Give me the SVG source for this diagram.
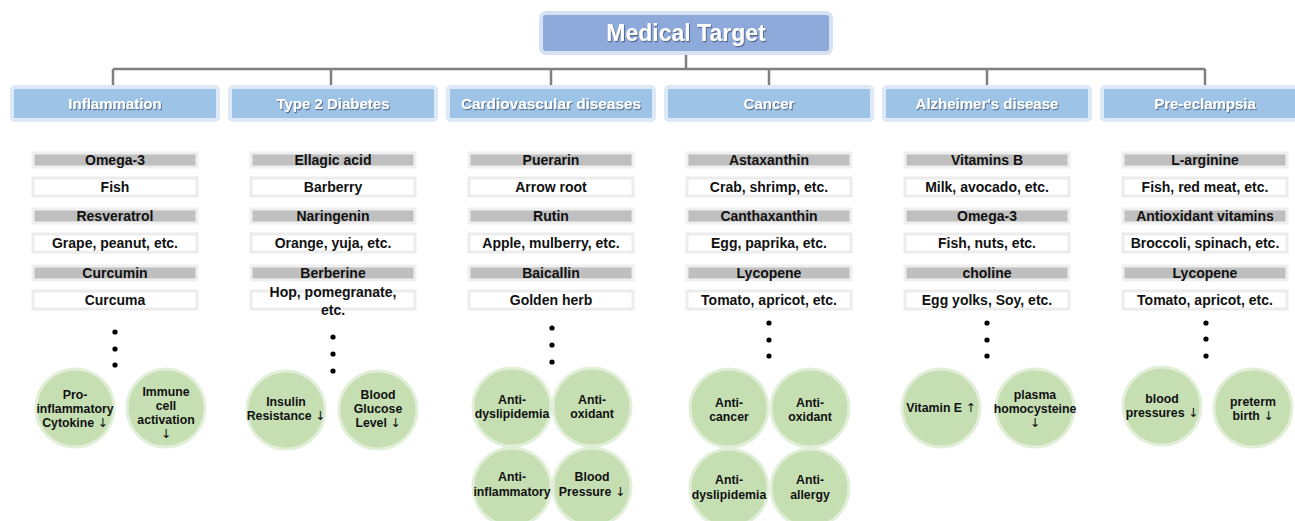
<svg xmlns="http://www.w3.org/2000/svg" width="1295" height="521" viewBox="0 0 1295 521">
<defs>
<filter id="ts" x="-10%" y="-30%" width="120%" height="160%"><feDropShadow dx="1" dy="1.2" stdDeviation="0.6" flood-color="#3a4a66" flood-opacity="0.7"/></filter>
</defs>
<style>
text{font-family:"Liberation Sans",Arial,sans-serif;font-weight:bold;text-anchor:middle;fill:#111}
.ar{font-family:"DejaVu Sans",sans-serif;font-weight:normal}
.title{fill:#8eaadb;stroke:#d6e1f3;stroke-width:4}
.tt{font-size:23px;fill:#fff}
.cat{fill:#9dc3e6;stroke:#dde9f6;stroke-width:4}
.ct{font-size:15px;fill:#fff}
.g{fill:#bfbfbf;stroke:#efefef;stroke-width:3}
.w{fill:#fff;stroke:#ececec;stroke-width:3}
.it{font-size:14px}
.c{fill:#c5dfb3;stroke:#e1eed8;stroke-width:3}
.cx{font-size:12.3px}
.conn{stroke:#7f7f7f;stroke-width:2.5;fill:none}
.dot{fill:#000}
</style>
<g id="connectors">
<path class="conn" d="M686 52V69M113 69H1205M113 69V86M331 69V86M551 69V86M769 69V86M987 69V86M1205 69V86"/>
</g>
<g id="title">
<rect class="title" x="541" y="13" width="290" height="40" rx="5"/>
<text class="tt" x="686" y="41" filter="url(#ts)">Medical Target</text>
</g>
<g id="cat-inflammation"><rect class="cat" x="12" y="87" width="206" height="33" rx="3"/><text class="ct" x="115" y="109" filter="url(#ts)">Inflammation</text></g>
<g id="cat-diabetes"><rect class="cat" x="230" y="87" width="206" height="33" rx="3"/><text class="ct" x="333" y="109" filter="url(#ts)">Type 2 Diabetes</text></g>
<g id="cat-cardio"><rect class="cat" x="448" y="87" width="206" height="33" rx="3"/><text class="ct" x="551" y="109" filter="url(#ts)" textLength="180" lengthAdjust="spacingAndGlyphs">Cardiovascular diseases</text></g>
<g id="cat-cancer"><rect class="cat" x="666" y="87" width="206" height="33" rx="3"/><text class="ct" x="769" y="109" filter="url(#ts)">Cancer</text></g>
<g id="cat-alzheimer"><rect class="cat" x="884" y="87" width="206" height="33" rx="3"/><text class="ct" x="987" y="109" filter="url(#ts)">Alzheimer's disease</text></g>
<g id="cat-preeclampsia"><rect class="cat" x="1102" y="87" width="206" height="33" rx="3"/><text class="ct" x="1205" y="109" filter="url(#ts)">Pre-eclampsia</text></g>

<g id="items-inflammation">
<rect class="g" x="33" y="153" width="164" height="14"/><text class="it" x="115" y="165">Omega-3</text>
<rect class="w" x="33" y="178" width="164" height="18"/><text class="it" x="115" y="192">Fish</text>
<rect class="g" x="33" y="209" width="164" height="14"/><text class="it" x="115" y="221">Resveratrol</text>
<rect class="w" x="33" y="234" width="164" height="18"/><text class="it" x="115" y="248">Grape, peanut, etc.</text>
<rect class="g" x="33" y="266" width="164" height="14"/><text class="it" x="115" y="278">Curcumin</text>
<rect class="w" x="33" y="291" width="164" height="18"/><text class="it" x="115" y="305">Curcuma</text>
<circle class="dot" cx="115" cy="332" r="2.6"/><circle class="dot" cx="115" cy="349" r="2.6"/><circle class="dot" cx="115" cy="365" r="2.6"/>
</g>
<g id="items-diabetes">
<rect class="g" x="251" y="153" width="164" height="14"/><text class="it" x="333" y="165">Ellagic acid</text>
<rect class="w" x="251" y="178" width="164" height="18"/><text class="it" x="333" y="192">Barberry</text>
<rect class="g" x="251" y="209" width="164" height="14"/><text class="it" x="333" y="221">Naringenin</text>
<rect class="w" x="251" y="234" width="164" height="18"/><text class="it" x="333" y="248">Orange, yuja, etc.</text>
<rect class="g" x="251" y="266" width="164" height="14"/><text class="it" x="333" y="278">Berberine</text>
<rect class="w" x="251" y="291" width="164" height="18"/><text class="it" x="333" y="297">Hop, pomegranate,</text><text class="it" x="333" y="315">etc.</text>
<circle class="dot" cx="333" cy="337" r="2.6"/><circle class="dot" cx="333" cy="354" r="2.6"/><circle class="dot" cx="333" cy="371" r="2.6"/>
</g>
<g id="items-cardio">
<rect class="g" x="469" y="153" width="164" height="14"/><text class="it" x="551" y="165">Puerarin</text>
<rect class="w" x="469" y="178" width="164" height="18"/><text class="it" x="551" y="192">Arrow root</text>
<rect class="g" x="469" y="209" width="164" height="14"/><text class="it" x="551" y="221">Rutin</text>
<rect class="w" x="469" y="234" width="164" height="18"/><text class="it" x="551" y="248">Apple, mulberry, etc.</text>
<rect class="g" x="469" y="266" width="164" height="14"/><text class="it" x="551" y="278">Baicallin</text>
<rect class="w" x="469" y="291" width="164" height="18"/><text class="it" x="551" y="305">Golden herb</text>
<circle class="dot" cx="552" cy="328" r="2.6"/><circle class="dot" cx="552" cy="345" r="2.6"/><circle class="dot" cx="552" cy="362" r="2.6"/>
</g>
<g id="items-cancer">
<rect class="g" x="687" y="153" width="164" height="14"/><text class="it" x="769" y="165">Astaxanthin</text>
<rect class="w" x="687" y="178" width="164" height="18"/><text class="it" x="769" y="192">Crab, shrimp, etc.</text>
<rect class="g" x="687" y="209" width="164" height="14"/><text class="it" x="769" y="221">Canthaxanthin</text>
<rect class="w" x="687" y="234" width="164" height="18"/><text class="it" x="769" y="248">Egg, paprika, etc.</text>
<rect class="g" x="687" y="266" width="164" height="14"/><text class="it" x="769" y="278">Lycopene</text>
<rect class="w" x="687" y="291" width="164" height="18"/><text class="it" x="769" y="305">Tomato, apricot, etc.</text>
<circle class="dot" cx="769" cy="323" r="2.6"/><circle class="dot" cx="769" cy="340" r="2.6"/><circle class="dot" cx="769" cy="356" r="2.6"/>
</g>
<g id="items-alzheimer">
<rect class="g" x="905" y="153" width="164" height="14"/><text class="it" x="987" y="165">Vitamins B</text>
<rect class="w" x="905" y="178" width="164" height="18"/><text class="it" x="987" y="192">Milk, avocado, etc.</text>
<rect class="g" x="905" y="209" width="164" height="14"/><text class="it" x="987" y="221">Omega-3</text>
<rect class="w" x="905" y="234" width="164" height="18"/><text class="it" x="987" y="248">Fish, nuts, etc.</text>
<rect class="g" x="905" y="266" width="164" height="14"/><text class="it" x="987" y="278">choline</text>
<rect class="w" x="905" y="291" width="164" height="18"/><text class="it" x="987" y="305">Egg yolks, Soy, etc.</text>
<circle class="dot" cx="987" cy="323" r="2.6"/><circle class="dot" cx="987" cy="340" r="2.6"/><circle class="dot" cx="987" cy="356" r="2.6"/>
</g>
<g id="items-preeclampsia">
<rect class="g" x="1123" y="153" width="164" height="14"/><text class="it" x="1205" y="165">L-arginine</text>
<rect class="w" x="1123" y="178" width="164" height="18"/><text class="it" x="1205" y="192">Fish, red meat, etc.</text>
<rect class="g" x="1123" y="209" width="164" height="14"/><text class="it" x="1205" y="221">Antioxidant vitamins</text>
<rect class="w" x="1123" y="234" width="164" height="18"/><text class="it" x="1205" y="248">Broccoli, spinach, etc.</text>
<rect class="g" x="1123" y="266" width="164" height="14"/><text class="it" x="1205" y="278">Lycopene</text>
<rect class="w" x="1123" y="291" width="164" height="18"/><text class="it" x="1205" y="305">Tomato, apricot, etc.</text>
<circle class="dot" cx="1206" cy="323" r="2.6"/><circle class="dot" cx="1206" cy="339" r="2.6"/><circle class="dot" cx="1206" cy="356" r="2.6"/>
</g>

<g id="effect-cytokine"><circle class="c" cx="75" cy="408" r="39"/><text class="cx" x="75" y="399">Pro-</text><text class="cx" x="75" y="413">inflammatory</text><text class="cx" x="75" y="427">Cytokine <tspan class="ar">↓</tspan></text></g>
<g id="effect-immune"><circle class="c" cx="166" cy="408" r="39"/><text class="cx" x="166" y="396">Immune</text><text class="cx" x="166" y="410">cell</text><text class="cx" x="166" y="424">activation</text><text class="cx ar" x="166" y="438">↓</text></g>
<g id="effect-insulin"><circle class="c" cx="286" cy="410" r="39"/><text class="cx" x="286" y="406">Insulin</text><text class="cx" x="286" y="420">Resistance <tspan class="ar">↓</tspan></text></g>
<g id="effect-glucose"><circle class="c" cx="378" cy="410" r="39"/><text class="cx" x="378" y="399">Blood</text><text class="cx" x="378" y="413">Glucose</text><text class="cx" x="378" y="427">Level <tspan class="ar">↓</tspan></text></g>
<g id="effect-cv-dyslipidemia"><circle class="c" cx="512" cy="407" r="39"/><text class="cx" x="512" y="404">Anti-</text><text class="cx" x="512" y="418">dyslipidemia</text></g>
<g id="effect-cv-oxidant"><circle class="c" cx="592" cy="407" r="39"/><text class="cx" x="592" y="404">Anti-</text><text class="cx" x="592" y="418">oxidant</text></g>
<g id="effect-cv-inflammatory"><circle class="c" cx="512" cy="487" r="39"/><text class="cx" x="512" y="481">Anti-</text><text class="cx" x="512" y="496">inflammatory</text></g>
<g id="effect-cv-bp"><circle class="c" cx="592" cy="487" r="39"/><text class="cx" x="592" y="481">Blood</text><text class="cx" x="592" y="496">Pressure <tspan class="ar">↓</tspan></text></g>
<g id="effect-ca-cancer"><circle class="c" cx="729" cy="408" r="39"/><text class="cx" x="729" y="407">Anti-</text><text class="cx" x="729" y="421">cancer</text></g>
<g id="effect-ca-oxidant"><circle class="c" cx="810" cy="408" r="39"/><text class="cx" x="810" y="407">Anti-</text><text class="cx" x="810" y="421">oxidant</text></g>
<g id="effect-ca-dyslipidemia"><circle class="c" cx="729" cy="488" r="39"/><text class="cx" x="729" y="484">Anti-</text><text class="cx" x="729" y="499">dyslipidemia</text></g>
<g id="effect-ca-allergy"><circle class="c" cx="810" cy="488" r="39"/><text class="cx" x="810" y="484">Anti-</text><text class="cx" x="810" y="499">allergy</text></g>
<g id="effect-vitamine"><circle class="c" cx="941" cy="408" r="39"/><text class="cx" x="941" y="412">Vitamin E <tspan class="ar">↑</tspan></text></g>
<g id="effect-homocysteine"><circle class="c" cx="1035" cy="408" r="39"/><text class="cx" x="1035" y="399">plasma</text><text class="cx" x="1035" y="413">homocysteine</text><text class="cx ar" x="1035" y="427">↓</text></g>
<g id="effect-bloodpressures"><circle class="c" cx="1162" cy="406" r="39"/><text class="cx" x="1162" y="403">blood</text><text class="cx" x="1162" y="417">pressures <tspan class="ar">↓</tspan></text></g>
<g id="effect-preterm"><circle class="c" cx="1253" cy="408" r="39"/><text class="cx" x="1253" y="406">preterm</text><text class="cx" x="1253" y="420">birth <tspan class="ar">↓</tspan></text></g>
</svg>
